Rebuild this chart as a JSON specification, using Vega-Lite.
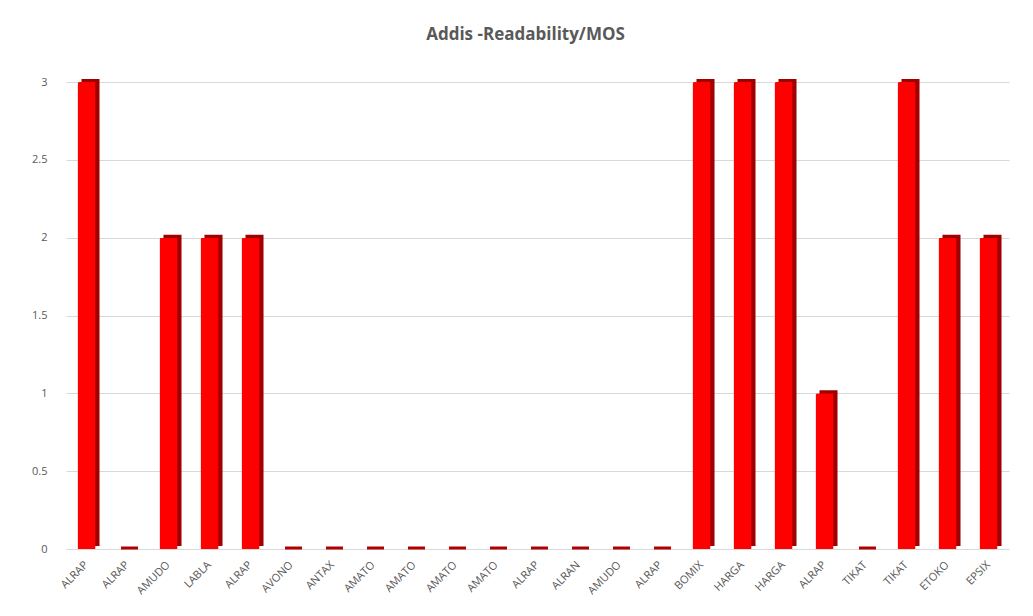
{
  "$schema": "https://vega.github.io/schema/vega-lite/v6.json",
  "width": 943,
  "height": 467,
  "autosize": "none",
  "padding": {"left": 66, "top": 82, "right": 24, "bottom": 67},
  "background": "white",
  "config": {"view": {"stroke": null}, "font": "Open Sans"},
  "title": {"text": "Addis -Readability/MOS", "fontSize": 17, "font": "Open Sans", "fontWeight": "bold", "color": "#595959", "offset": 32, "dx": -12},
  "data": {"values": [
    {"idx": 1, "name": "ALRAP", "value": 3},
    {"idx": 2, "name": "ALRAP", "value": 0},
    {"idx": 3, "name": "AMUDO", "value": 2},
    {"idx": 4, "name": "LABLA", "value": 2},
    {"idx": 5, "name": "ALRAP", "value": 2},
    {"idx": 6, "name": "AVONO", "value": 0},
    {"idx": 7, "name": "ANTAX", "value": 0},
    {"idx": 8, "name": "AMATO", "value": 0},
    {"idx": 9, "name": "AMATO", "value": 0},
    {"idx": 10, "name": "AMATO", "value": 0},
    {"idx": 11, "name": "AMATO", "value": 0},
    {"idx": 12, "name": "ALRAP", "value": 0},
    {"idx": 13, "name": "ALRAN", "value": 0},
    {"idx": 14, "name": "AMUDO", "value": 0},
    {"idx": 15, "name": "ALRAP", "value": 0},
    {"idx": 16, "name": "BOMIX", "value": 3},
    {"idx": 17, "name": "HARGA", "value": 3},
    {"idx": 18, "name": "HARGA", "value": 3},
    {"idx": 19, "name": "ALRAP", "value": 1},
    {"idx": 20, "name": "TIKAT", "value": 0},
    {"idx": 21, "name": "TIKAT", "value": 3},
    {"idx": 22, "name": "ETOKO", "value": 2},
    {"idx": 23, "name": "EPSIX", "value": 2}
  ]},
  "encoding": {
    "x": {
      "field": "idx", "type": "ordinal", "sort": null,
      "scale": {"paddingInner": 0.56, "paddingOuter": 0.28},
      "axis": {
        "title": null, "domain": false, "ticks": false, "labelAngle": -45, "labelAlign": "right", "labelBaseline": "middle",
        "labelPadding": 14, "labelFontSize": 11, "labelColor": "#595959", "labelFont": "Open Sans",
        "labelExpr": "['ALRAP','ALRAP','AMUDO','LABLA','ALRAP','AVONO','ANTAX','AMATO','AMATO','AMATO','AMATO','ALRAP','ALRAN','AMUDO','ALRAP','BOMIX','HARGA','HARGA','ALRAP','TIKAT','TIKAT','ETOKO','EPSIX'][datum.value - 1]"
      }
    },
    "y": {
      "field": "value", "type": "quantitative",
      "scale": {"domain": [0, 3], "nice": false},
      "axis": {
        "title": null, "domain": false, "ticks": false, "values": [0, 0.5, 1, 1.5, 2, 2.5, 3], "format": "~g",
        "labelPadding": 19, "labelFontSize": 11, "labelColor": "#595959", "labelFont": "Open Sans",
        "gridColor": "#d9d9d9", "gridWidth": 1
      }
    }
  },
  "layer": [
    {"mark": {"type": "bar", "color": "#a00000", "xOffset": 4, "yOffset": -3}},
    {"mark": {"type": "bar", "color": "#ff0000", "cornerRadiusTopLeft": 2}},
    {
      "transform": [{"filter": "datum.value == 0"}],
      "mark": {"type": "tick", "color": "#b00000", "thickness": 3, "size": 17, "xOffset": 2, "yOffset": -1, "opacity": 1}
    }
  ]
}
